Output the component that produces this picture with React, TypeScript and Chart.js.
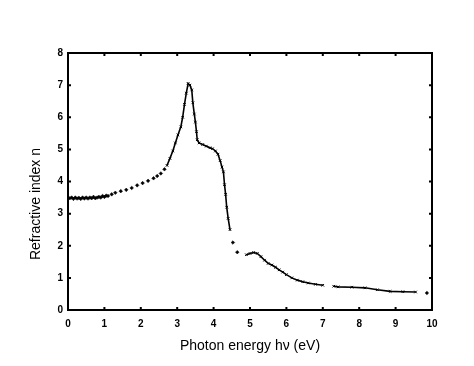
import React, { useEffect, useRef } from "react";
import { Chart, registerables } from "chart.js";

Chart.register(...registerables);

// Sparse low-energy points (markers only)
const energyDots = [
  0.05, 0.1, 0.15, 0.2, 0.25, 0.3, 0.35, 0.4, 0.45, 0.5, 0.55, 0.6, 0.65, 0.7, 0.75, 0.8, 0.85, 0.9, 0.95, 1.0,
  1.05, 1.1, 1.2, 1.3, 1.45, 1.6, 1.75, 1.9, 2.05, 2.2, 2.35, 2.45, 2.55, 2.65, 4.53, 4.65, 9.86,
];
const indexDots = [
  3.48, 3.5, 3.46, 3.5, 3.47, 3.49, 3.46, 3.5, 3.47, 3.5, 3.47, 3.5, 3.48, 3.52, 3.48, 3.5, 3.52, 3.5, 3.55, 3.52,
  3.56, 3.55, 3.6, 3.65, 3.7, 3.74, 3.8, 3.88, 3.95, 4.02, 4.1, 4.17, 4.25, 4.38, 2.1, 1.8, 0.53,
];

// Connected measurements (null = gap in the line)
const energyLine = [
  2.72, 2.8, 2.88, 2.95, 3.02, 3.1, 3.15, 3.2, 3.25, 3.3, 3.35, 3.4, 3.43, 3.47, 3.5, 3.53, 3.55, 3.6, 3.7, 3.8,
  3.9, 3.97, 4.05, 4.12, 4.18, 4.23, 4.27, 4.3, 4.33, 4.36, 4.4, 4.45, 4.7,
  4.9, 5.0, 5.1, 5.2, 5.3, 5.4, 5.5, 5.6, 5.7, 5.8, 5.9, 6.0, 6.15, 6.3, 6.45, 6.6, 6.8, 7.0, 7.15,
  7.3, 7.42, 7.8, 8.16, 8.5, 8.85, 9.2, 9.55,
];
const indexLine = [
  4.5, 4.72, 4.95, 5.2, 5.45, 5.7, 6.0, 6.4, 6.75, 7.05, 7.0, 6.85, 6.45, 6.1, 5.85, 5.55, 5.3, 5.2, 5.15, 5.1,
  5.05, 5.02, 4.95, 4.85, 4.65, 4.45, 4.3, 3.9, 3.6, 3.2, 2.85, 2.5, null,
  1.72, 1.76, 1.79, 1.76, 1.66, 1.55, 1.45, 1.4, 1.33, 1.25, 1.18, 1.1, 1.0, 0.93, 0.88, 0.84, 0.8, 0.77, null,
  0.74, 0.72, 0.71, 0.69, 0.63, 0.58, 0.57, 0.56,
];

const xTicks = [0, 1, 2, 3, 4, 5, 6, 7, 8, 9, 10];
const yTicks = [0, 1, 2, 3, 4, 5, 6, 7, 8];

const FONT = "'Liberation Sans', Arial, sans-serif";

const framePlugin = {
  id: "frameTicks",
  afterDatasetsDraw(chart: any) {
    const { ctx, chartArea, scales } = chart;
    const { left, right, top, bottom } = chartArea;
    ctx.save();
    ctx.strokeStyle = "#000";
    ctx.lineWidth = 2;
    ctx.strokeRect(left, top, right - left, bottom - top);
    const t = 3;
    xTicks.forEach((v) => {
      const px = scales.x.getPixelForValue(v);
      ctx.beginPath();
      ctx.moveTo(px, bottom);
      ctx.lineTo(px, bottom - t);
      ctx.moveTo(px, top);
      ctx.lineTo(px, top + t);
      ctx.stroke();
    });
    yTicks.forEach((v) => {
      const py = scales.y.getPixelForValue(v);
      ctx.beginPath();
      ctx.moveTo(left, py);
      ctx.lineTo(left + t, py);
      ctx.moveTo(right, py);
      ctx.lineTo(right - t, py);
      ctx.stroke();
    });
    // y-axis title
    ctx.translate(28, 196);
    ctx.rotate(-Math.PI / 2);
    ctx.fillStyle = "#000";
    ctx.textAlign = "center";
    ctx.textBaseline = "middle";
    ctx.font = "14px " + FONT;
    ctx.fillText("Refractive index n", 0, 0);
    ctx.restore();
  },
};

export default function App() {
  const ref = useRef<HTMLCanvasElement | null>(null);
  useEffect(() => {
    if (!ref.current) return;
    const dots = energyDots.map((x, i) => ({ x, y: indexDots[i] }));
    const line = energyLine.map((x, i) => ({ x, y: indexLine[i] }));
    const chart = new Chart(ref.current, {
      type: "scatter",
      data: {
        datasets: [
          {
            data: dots,
            showLine: false,
            pointStyle: "rectRot",
            pointRadius: 1.8,
            backgroundColor: "#000",
            borderColor: "#000",
            borderWidth: 0.5,
          },
          {
            data: line as any,
            showLine: true,
            spanGaps: false,
            borderColor: "#000",
            borderWidth: 1.6,
            pointStyle: "crossRot",
            pointRadius: 1.8,
            pointBorderWidth: 1,
            pointBorderColor: "#000",
            backgroundColor: "#000",
          },
        ],
      },
      options: {
        animation: false,
        responsive: false,
        maintainAspectRatio: false,
        layout: { padding: { left: 0, top: 45, right: 34, bottom: 0 } },
        plugins: { legend: { display: false }, tooltip: { enabled: false } },
        scales: {
          x: {
            type: "linear",
            min: 0,
            max: 10,
            grid: { display: false, drawTicks: false },
            border: { display: false },
            afterFit: (s: any) => {
              s.height = 48;
            },
            afterBuildTicks: (s: any) => {
              s.ticks = xTicks.map((v) => ({ value: v }));
            },
            ticks: { padding: 8, color: "#000", font: { family: FONT, size: 10, weight: "bold" } },
            title: {
              display: true,
              text: "Photon energy hν (eV)",
              color: "#000",
              font: { family: FONT, size: 14 },
              padding: { top: 0, bottom: 3 },
            },
          },
          y: {
            type: "linear",
            min: 0,
            max: 8,
            grid: { display: false, drawTicks: false },
            border: { display: false },
            afterFit: (s: any) => {
              s.width = 60;
            },
            afterBuildTicks: (s: any) => {
              s.ticks = yTicks.map((v) => ({ value: v }));
            },
            ticks: { padding: 5, color: "#000", font: { family: FONT, size: 10, weight: "bold" } },
          },
        },
      },
      plugins: [framePlugin],
    });
    return () => chart.destroy();
  }, []);
  return (
    <div style={{ width: 458, height: 350 }}>
      <canvas ref={ref} width={458} height={350} style={{ width: 458, height: 350 }} />
    </div>
  );
}
